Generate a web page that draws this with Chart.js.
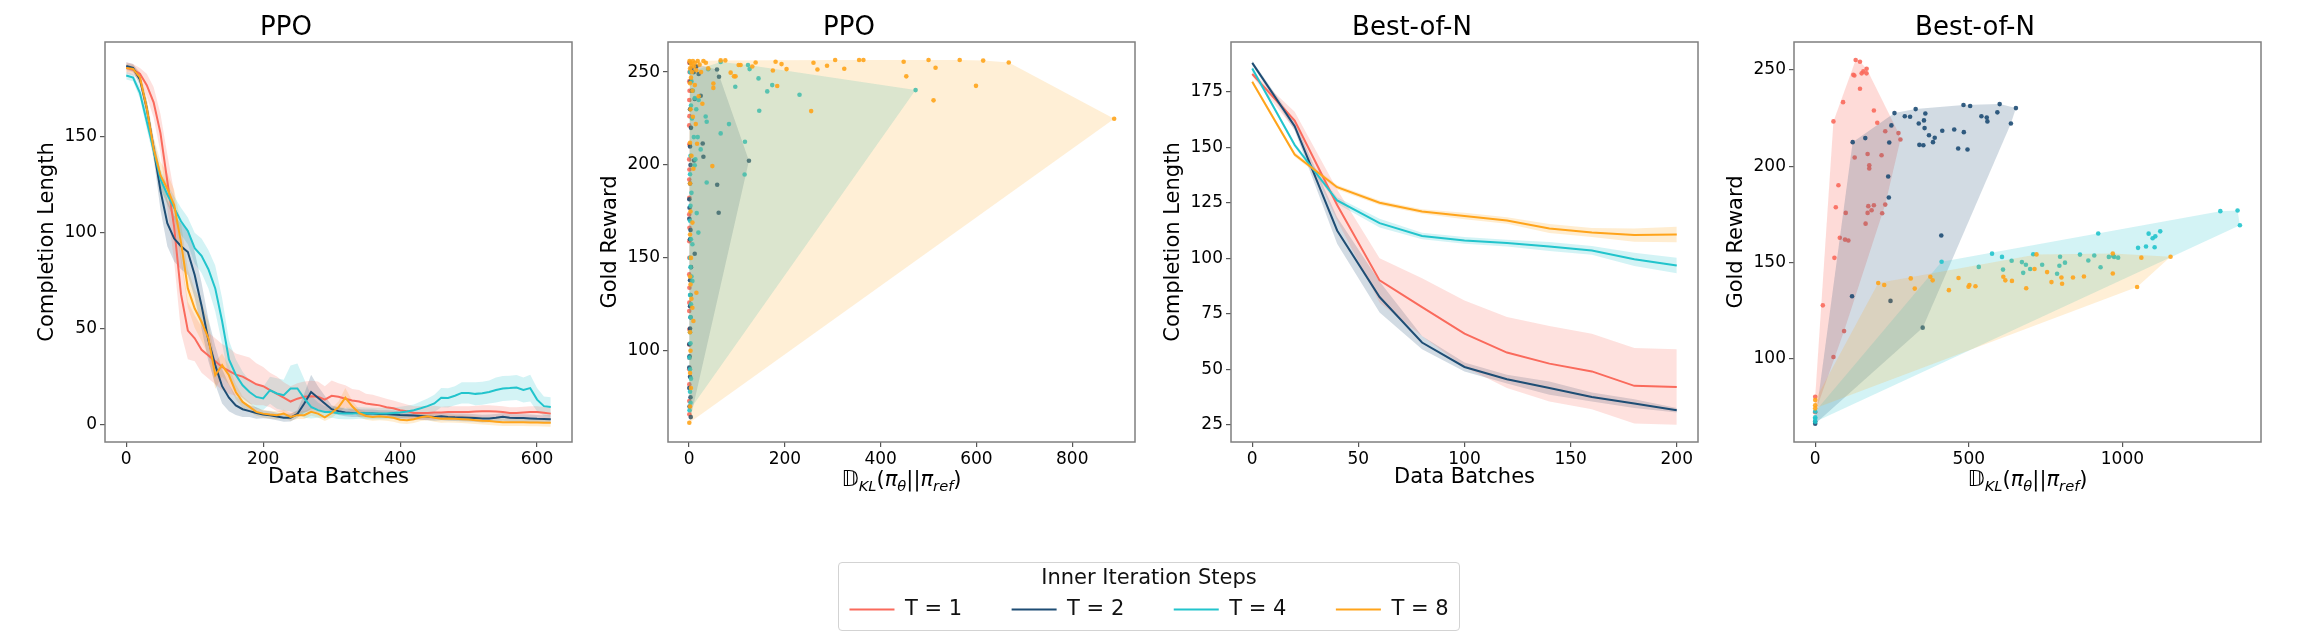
<!DOCTYPE html>
<html><head><meta charset="utf-8">
<script src="https://cdn.jsdelivr.net/npm/chart.js@4.4.1/dist/chart.umd.min.js"></script>
<style>
html,body{margin:0;padding:0;background:#fff;width:2322px;height:640px;overflow:hidden;position:relative;}
canvas{position:absolute;top:0;}
#legendBox{position:absolute;left:838px;top:562px;width:620px;height:67px;border:1px solid #d3d3d3;border-radius:4px;}
</style></head><body>
<div id="legendBox"></div>
<canvas id="c1" width="582" height="500" style="left:0px"></canvas>
<canvas id="c2" width="582" height="500" style="left:563px"></canvas>
<canvas id="c3" width="582" height="500" style="left:1126px"></canvas>
<canvas id="c4" width="582" height="500" style="left:1689px"></canvas>
<canvas id="cl" width="800" height="200" style="left:749px;top:558px"></canvas>
<script>
// ---------- DATA ----------
const seriesLabels = ['T = 1', 'T = 2', 'T = 4', 'T = 8'];

// Panel 1: PPO completion length vs data batches
const ppoBatches = [0,10,20,30,40,50,60,70,80,90,100,110,120,130,140,150,160,170,180,190,200,210,220,230,240,250,260,270,280,290,300,310,320,330,340,350,360,370,380,390,400,410,420,430,440,450,460,470,480,490,500,510,520,530,540,550,560,570,580,590,600,610,620];
const ppoLenT1 = [186,185,183,177,168,152,127,103,68,49, 45,39,36,33,30,28,26,25,23,21, 20,18,16,14,12,13.5,14.5,14.8,14.5,13, 15,14.5,13.5,12.5,12,11,10.5,10,9,8.5, 7.5,7,6,6,6,6.3,6.3,6.5,6.5,6.6, 6.6,6.8,7,7,6.8,6.5,6,6,6.3,6.6, 6.6,6.2,5.7];
const ppoLenT2 = [187,186,180,165,144,122,105,97,93,90, 78,62,44,31,20,14,10,8,7,6, 5.3,4.9,4.2,3.5,3.6,5.5,11,17,14,11, 8,7,6.3,6,6,5.8,5.8,5.5,5.5,5.3, 5,4.9,4.7,4.5,4.2,4,4.3,4,3.8,3.7, 3.6,3.4,3.1,3.2,3.5,4,3.5,3.4,3.4,3.2, 3,2.9,2.8];
const ppoLenT4 = [182,181,173,158,143,128,120,113,106,101, 92,88,81,71,54,34,26,20.5,17,14.4, 13.6,17.9,16.2,15.3,18.8,18.8,13.6,9.2,7.5,6.6, 6.6,5.9,5.7,5.8,6,5.9,5.8,5.7,5.7,6, 6.3,6.8,7.5,8.5,9.6,11,14,13.9,15,16.5, 16.5,16,16.3,17,18,18.8,19,19.3,18,19, 13,9.6,9.2];
const ppoLenT8 = [186,185.5,181,165,144,130,123,114.5,95,71, 60.5,53.6,45,25.7,31,25.7,17,11.8,9.2,6.6, 5.7,5.2,4.9,5.7,4,4.9,4.9,6.6,5.7,3.8, 6,9,14,9.5,6,4.5,4,4.3,4,3.5, 2.5,2.3,2.8,3.8,4.3,3.5,3,3.1,3,2.8, 2.6,2.3,2,1.8,1.5,1.2,1.2,1.2,1.2,1.1, 1.1,1,0.9];
const ppoSpreadT1 = [3,3,3,6,8,10,14,18,20,15, 12,12,12,12,12,12,11,11,12,11, 10,9,9,8,8,8,8,8,8,7, 8,7,7,6,6,5,5,4.5,4.5,4, 4,3.5,3.5,3.5,3.5,3.5,3,3,3,3, 3,3,3,3,3,3,3,3,3,3, 3,3,3];
const ppoSpreadT2 = [2,2,3,4,5,10,12,12,12,12, 12,12,11,10,9,7,5,4,3,3, 2,2,2,2,2,2,5,9,6,4, 2,2,2,2,2,2,2,2,2,2, 2,2,2,2,2,2,2,2,2,2, 2,2,2,2,2,2,2,2,2,2, 2,2,2];
const ppoSpreadT4 = [2,2,3,4,4,5,5,6,7,7, 8,9,10,12,12,10,8,7,6,6, 6,7,8,8,12,13,10,6,4,3, 3,3,3,3,3,3,3,3,3,3, 3,3,3,3.5,4,4.5,5,5,5,5.5, 5.5,6,6,6,6.5,6.5,6.5,6.5,6.5,7, 6,5,5];
const ppoSpreadT8 = [2,2,3,5,6,7,8,8,10,10, 10,10,9,7,6,5,4,3,2.5,2, 2,2,2,2,2,2,2,2,2,2, 2.5,3,5,3,2,2,2,2,2,2, 2,2,2,2,2,2,2,2,2,2, 2,2,2,2,2,2,2,2,2,2, 2,2,2];

// Panel 3: Best-of-N completion length vs data batches
const bonBatches = [0,20,40,60,80,100,120,140,160,180,200];
const bonLenT1 = [183,162,124,90,78,66,57.5,52.5,49,42.5,42];
const bonLenT2 = [188,159.5,112.5,82.5,62,51,45.5,41.5,37.5,34.5,31.5];
const bonLenT4 = [185.5,151,126,115.8,110,108,106.8,105.3,103.5,99.5,96.7];
const bonLenT8 = [179.5,146.7,132,125,121,119,117,113.4,111.6,110.4,110.7];
const bonSpreadT1 = [1,4,7,10,13,15,16,17,17,17,17];
const bonSpreadT2 = [1,2,6,7,3,2,2,3,2,2,1];
const bonSpreadT4 = [1,1,1.5,2,1.5,1.5,1.5,2,2,3,3.5];
const bonSpreadT8 = [1,1,1,1,1,1.5,1.5,2,2,3,3.5];

// Panel 2: PPO gold reward vs KL  [KL, reward]
const ppoKlT1 = [[0.5,255],[1,250],[0.3,245],[1,240],[0.5,235],[0.8,226.3],[0.3,221.3],[0.6,211.1],[0.2,203],[0.7,197.6],[0.4,192.2],[0.6,182.4],[0.3,173.4],[0.8,166.2],[0.4,159],[0.6,150.1],[0.3,141.1],[0.7,133.9],[0.5,125.9],[0.3,121.4],[0.6,111.5],[0.4,103.4],[0.7,96.3],[0.3,90],[0.5,81.9],[0.4,73],[0.6,65.8]];
const ppoKlT2 = [[125,202.3],[58.7,189.4],[29.9,204.4],[28.5,211.6],[61.8,174.3],[58.3,251.4],[62.5,247.5],[24.3,237.3],[11.8,235.5],[10.4,202.4],[11.8,152.2],[0.5,181.6],[1,177],[0.5,171],[0.5,103.5],[1,97],[0.5,91],[0.5,80],[3.5,64.3],[1,70],[2,255],[5,252],[10,250],[15,253],[20,249],[3,245],[6,240],[2,230],[4,220],[2,210],[3,200],[2,190],[3,165],[2,160],[4,145],[2,138],[3,130],[2,124],[3,118],[2,112],[2,86],[3,75]];
const ppoKlT4 = [[472.9,240.3],[230.6,237.8],[163.2,239.6],[173.6,243],[145,246.6],[96.5,242.1],[126.4,251.6],[123,253.8],[146.5,229.2],[116.7,212.5],[116,194.9],[83.3,222],[66,217],[24.3,208.4],[36.8,190.6],[16,174.1],[19.4,163.6],[11.8,199.8],[13.2,203],[34.7,226.1],[36.8,223.3],[6.9,157.3],[6.9,137.5],[0.7,96.3],[40,251.5],[66,255.5],[2,250],[5,245],[8,240],[12,236],[4,232],[15,230],[20,235],[6,225],[10,215],[3,205],[18,215],[2,195],[5,185],[3,178],[2,170],[4,160],[2,150],[3,145],[5,140],[2,130],[4,125],[3,118],[2,110],[3,104],[2,90],[4,85],[2,78],[3,72],[1,68]];
const ppoKlT8 = [[66,256.3],[75.7,256.3],[139,255.2],[180.6,255.6],[193,254.3],[203.5,251.6],[175,250.9],[259.7,255],[268,251.4],[288,253.4],[305,256.5],[324,251.8],[355,256.5],[364,256.5],[448,255.6],[453.5,247.7],[500,256.5],[514.6,252.3],[565,256.5],[599,242.6],[614,256.2],[667.4,255.2],[510.4,234.8],[254.9,229],[887.5,224.9],[86.8,249.7],[93.8,247.7],[97,247.7],[103.5,253.8],[107.6,253.8],[184,242.5],[132,253],[50.7,243.9],[50.7,241.5],[27.8,233],[48.6,199.4],[16.7,211.4],[9,198],[15.3,131.2],[9,116],[6.9,123.2],[0.5,61.3],[1,256],[3,255],[5,254],[8,256],[2,252],[6,250],[10,253],[12,255],[15,251],[4,247],[18,256],[22,254],[25,250],[30,256],[35,255],[40,252],[2,244],[7,240],[12,243],[20,237],[3,230],[8,226],[14,222],[2,212],[5,205],[2,190],[3,175],[2,162.6],[7,169],[4,150],[2,140],[3,135.7],[5,128],[2,110],[3,100],[2,88],[4,80],[2,70]];

// Panel 4: Best-of-N gold reward vs KL  [KL, reward]
const bonKlT1 = [[0,80],[0,72],[24.8,127.6],[59.4,100.7],[62.6,152.3],[67,178.6],[75.6,190.1],[80,162.8],[59.4,223.3],[90.7,233.3],[94,114.2],[99.4,175.7],[97,161.8],[108,161.3],[124,247.6],[127.4,247.2],[131.7,255.2],[128.5,204.5],[145.8,254.3],[145.8,240.3],[151.2,248.3],[156.6,249.3],[167.4,250.7],[167,248.3],[170.6,206.3],[176,200.5],[176,198.8],[164,170.1],[170.6,175.7],[172.8,179.2],[183.6,177.1],[191,179.7],[191,229],[202,222.6],[216,205.7],[218,175.5],[228,180],[228,218.2],[271,217.2],[277.5,213.9]];
const bonKlT2 = [[0,67.2],[0,66],[122,212.5],[163,214.6],[241,212.3],[248,221.2],[258,227.6],[291.6,226],[308.9,225.7],[327,229.7],[337,222.2],[354,223.8],[358.5,227.4],[356,219.8],[370.4,216.1],[383.4,212.5],[389,214.8],[339,211.1],[352,210.9],[413.6,218.4],[452.5,219.1],[465.4,209.2],[482.7,231.8],[483.8,217.7],[495.7,208.7],[504.3,231.3],[541,226],[558.3,225.3],[560.5,223.3],[592.9,228],[600.4,232.3],[637,222.2],[653.3,230.2],[237.6,194.6],[239.7,183.7],[410.4,163.9],[119.9,132.3],[245.1,129.9],[349.9,116]];
const bonKlT4 = [[0,72.4],[0,69.4],[0,68.6],[0,67],[411.4,150.3],[575.6,154.5],[608,152.8],[709.6,154.2],[532.4,147.6],[639.4,150.8],[611.3,146.2],[672.8,150.1],[685.7,148.7],[699.7,146.5],[677,144.5],[738.7,148.7],[797,152.9],[813,149.8],[794.8,148.2],[787.3,144],[861.8,154],[908.3,153.5],[888.9,150.9],[928.8,147.4],[955.8,152.8],[969.9,153.3],[973,152.8],[986,152.4],[921.2,165],[1050.8,157.5],[1076.7,158.2],[1104.8,157.8],[1085.3,164.9],[1098.3,162.5],[1107,163.5],[1123,166.1],[1318.6,176.6],[1374.7,176.9],[1382.3,169.3]];
const bonKlT8 = [[0,78.3],[0,75.6],[0,74],[205.2,139.2],[224.6,138.2],[311,141.6],[324,136.3],[374.8,142.5],[382.3,140.6],[466.5,141.8],[435.2,135.5],[502,138.2],[499,137.3],[521.6,137.5],[612.3,142.5],[618.8,140.6],[640.4,140.3],[686.8,136.5],[713.8,146.5],[720.3,154.1],[754.8,144.9],[769,139.7],[801.4,142.1],[803.6,138.8],[839,142.1],[874.7,142.6],[968.6,154.6],[968.6,144.2],[1061.6,152.4],[1156.6,152.9],[1047.7,137.1]];

// tick labels
const ppoLenXTicks = [0,200,400,600];
const ppoLenYTicks = [0,50,100,150];
const ppoKlXTicks = [0,200,400,600,800];
const ppoKlYTicks = [100,150,200,250];
const bonLenXTicks = [0,50,100,150,200];
const bonLenYTicks = [25,50,75,100,125,150,175];
const bonKlXTicks = [0,500,1000];
const bonKlYTicks = [100,150,200,250];

// ---------- STYLE ----------
const colors = ['#FA6A5C', '#1E4D74', '#22C4CC', '#FFA41B'];
const FONT = "'DejaVu Sans', sans-serif";
Chart.defaults.font.family = FONT;
Chart.defaults.color = '#000';

function rgba(hex, a) {
  const n = parseInt(hex.slice(1), 16);
  return `rgba(${(n >> 16) & 255},${(n >> 8) & 255},${n & 255},${a})`;
}

function convexHull(pts) {
  const p = pts.map(a => ({x: a[0], y: a[1]})).sort((a, b) => a.x - b.x || a.y - b.y);
  const cross = (o, a, b) => (a.x - o.x) * (b.y - o.y) - (a.y - o.y) * (b.x - o.x);
  const lower = [];
  for (const q of p) { while (lower.length >= 2 && cross(lower[lower.length - 2], lower[lower.length - 1], q) <= 0) lower.pop(); lower.push(q); }
  const upper = [];
  for (let i = p.length - 1; i >= 0; i--) { const q = p[i]; while (upper.length >= 2 && cross(upper[upper.length - 2], upper[upper.length - 1], q) <= 0) upper.pop(); upper.push(q); }
  upper.pop(); lower.pop();
  return lower.concat(upper);
}

const framePlugin = {
  id: 'frame',
  afterDatasetsDraw(chart) {
    const {ctx, chartArea: a} = chart;
    ctx.save();
    ctx.strokeStyle = '#7f7f7f';
    ctx.lineWidth = 1.5;
    ctx.strokeRect(a.left, a.top, a.right - a.left, a.bottom - a.top);
    ctx.restore();
  }
};

const klLabelPlugin = {
  id: 'klLabel',
  afterDraw(chart, args, opts) {
    if (!opts || !opts.show) return;
    const ctx = chart.ctx, a = chart.chartArea;
    const base = 21;
    const parts = [
      {t: '\u{1D53B}', s: 1, i: false, dy: 0},
      {t: 'KL', s: 0.7, i: true, dy: 4.5},
      {t: '(', s: 1, i: false, dy: 0},
      {t: 'π', s: 1, i: true, dy: 0},
      {t: 'θ', s: 0.7, i: true, dy: 4.5},
      {t: '||', s: 1, i: false, dy: 0},
      {t: 'π', s: 1, i: true, dy: 0},
      {t: 'ref', s: 0.7, i: true, dy: 4.5},
      {t: ')', s: 1, i: false, dy: 0}
    ];
    ctx.save();
    ctx.fillStyle = '#000';
    ctx.textBaseline = 'alphabetic';
    ctx.textAlign = 'left';
    const fontOf = p => `${p.i ? 'italic ' : ''}${(base * p.s).toFixed(1)}px ${FONT}`;
    let total = 0;
    const widths = parts.map(p => { ctx.font = fontOf(p); const w = ctx.measureText(p.t).width; total += w; return w; });
    let x = (a.left + a.right) / 2 - total / 2;
    parts.forEach((p, k) => { ctx.font = fontOf(p); ctx.fillText(p.t, x, opts.y + p.dy); x += widths[k]; });
    ctx.restore();
  }
};

function xAxis(min, max, ticks, title) {
  return {
    type: 'linear', min, max,
    afterBuildTicks: ax => { ax.ticks = ticks.map(v => ({value: v})); },
    afterFit: ax => { ax.height = 58; },
    grid: {display: true, drawOnChartArea: false, drawTicks: true, tickLength: 5, color: '#555', lineWidth: 1.2},
    border: {display: false},
    ticks: {font: {size: 17}, color: '#000', padding: 2, maxRotation: 0, autoSkip: false, callback: v => String(v)},
    title: {display: !!title, text: title || '', font: {size: 21}, color: '#000', padding: {top: 0, bottom: 9.4}}
  };
}
function yAxis(min, max, ticks, title) {
  return {
    type: 'linear', min, max,
    afterBuildTicks: ax => { ax.ticks = ticks.map(v => ({value: v})); },
    afterFit: ax => { ax.width = 105; },
    grid: {display: true, drawOnChartArea: false, drawTicks: true, tickLength: 5, color: '#555', lineWidth: 1.2},
    border: {display: false},
    ticks: {font: {size: 17}, color: '#000', padding: 3, autoSkip: false, callback: v => String(v)},
    title: {display: true, text: title, font: {size: 21}, color: '#000', padding: {top: 35.4, bottom: 0}}
  };
}
function baseOptions(title, scales, klY) {
  return {
    responsive: false, animation: false, events: [],
    layout: {padding: {left: 0, right: 10, top: 0, bottom: 0}},
    scales,
    plugins: {
      legend: {display: false},
      tooltip: {enabled: false},
      title: {display: true, text: title, color: '#000', font: {size: 26, weight: 'normal', lineHeight: 1}, padding: {top: 15, bottom: 1}},
      klLabel: {show: klY != null, y: klY}
    }
  };
}

function linePanel(id, title, xs, means, spreads, xr, xt, yr, yt) {
  const datasets = [];
  means.forEach((ys, i) => {
    const c = colors[i];
    datasets.push({data: xs.map((x, k) => ({x, y: ys[k] + spreads[i][k]})), borderWidth: 0, borderColor: 'transparent', pointRadius: 0, fill: '+1', backgroundColor: rgba(c, 0.2), order: 10 + i});
    datasets.push({data: xs.map((x, k) => ({x, y: ys[k] - spreads[i][k]})), borderWidth: 0, borderColor: 'transparent', pointRadius: 0, fill: false, order: 10 + i});
    datasets.push({label: seriesLabels[i], data: xs.map((x, k) => ({x, y: ys[k]})), borderColor: c, borderWidth: 2, pointRadius: 0, fill: false, tension: 0, order: 4 - i});
  });
  new Chart(document.getElementById(id), {
    type: 'line', data: {datasets},
    options: baseOptions(title, {x: xAxis(xr[0], xr[1], xt, 'Data Batches'), y: yAxis(yr[0], yr[1], yt, 'Completion Length')}, null),
    plugins: [framePlugin, klLabelPlugin]
  });
}

const hullAlpha = [0.24, 0.2, 0.2, 0.18];
function scatterPanel(id, title, sets, xr, xt, yr, yt) {
  const datasets = [];
  sets.forEach((pts, i) => {
    const c = colors[i];
    datasets.push({label: seriesLabels[i], data: pts.map(p => ({x: p[0], y: p[1]})), showLine: false, pointRadius: 2.3, pointBackgroundColor: rgba(c, 0.9), pointBorderWidth: 0, order: 8 - 2 * i});
    datasets.push({data: convexHull(pts), showLine: true, borderWidth: 0, borderColor: 'transparent', pointRadius: 0, fill: 'shape', backgroundColor: rgba(c, hullAlpha[i]), tension: 0, order: 7 - 2 * i});
  });
  new Chart(document.getElementById(id), {
    type: 'line', data: {datasets},
    options: baseOptions(title, {x: xAxis(xr[0], xr[1], xt, null), y: yAxis(yr[0], yr[1], yt, 'Gold Reward')}, 486),
    plugins: [framePlugin, klLabelPlugin]
  });
}

linePanel('c1', 'PPO', ppoBatches, [ppoLenT1, ppoLenT2, ppoLenT4, ppoLenT8], [ppoSpreadT1, ppoSpreadT2, ppoSpreadT4, ppoSpreadT8], [-31, 651], ppoLenXTicks, [-9.1, 199.5], ppoLenYTicks);
scatterPanel('c2', 'PPO', [ppoKlT1, ppoKlT2, ppoKlT4, ppoKlT8], [-44, 931], ppoKlXTicks, [50.9, 266.2], ppoKlYTicks);
linePanel('c3', 'Best-of-N', bonBatches, [bonLenT1, bonLenT2, bonLenT4, bonLenT8], [bonSpreadT1, bonSpreadT2, bonSpreadT4, bonSpreadT8], [-10, 210], bonLenXTicks, [17.2, 197.4], bonLenYTicks);
scatterPanel('c4', 'Best-of-N', [bonKlT1, bonKlT2, bonKlT4, bonKlT8], [-69, 1451], bonKlXTicks, [56.5, 264.6], bonKlYTicks);

// Legend
new Chart(document.getElementById('cl'), {
  type: 'line',
  data: {datasets: seriesLabels.map((l, i) => ({label: l, data: [], borderColor: colors[i], backgroundColor: colors[i]}))},
  options: {
    responsive: false, animation: false, events: [],
    scales: {x: {display: false}, y: {display: false}},
    plugins: {
      tooltip: {enabled: false},
      legend: {
        display: true, position: 'top', align: 'center',
        title: {display: true, text: 'Inner Iteration Steps', color: '#111', font: {size: 21}, padding: {top: 10, bottom: -43.7}},
        labels: {
          font: {size: 21}, color: '#111', boxWidth: 45, boxHeight: 2, padding: 49.5,
          generateLabels: chart => seriesLabels.map((l, i) => ({text: l, fillStyle: colors[i], strokeStyle: colors[i], lineWidth: 0, hidden: false, datasetIndex: i}))
        }
      }
    }
  }
});
</script>
</body></html>
